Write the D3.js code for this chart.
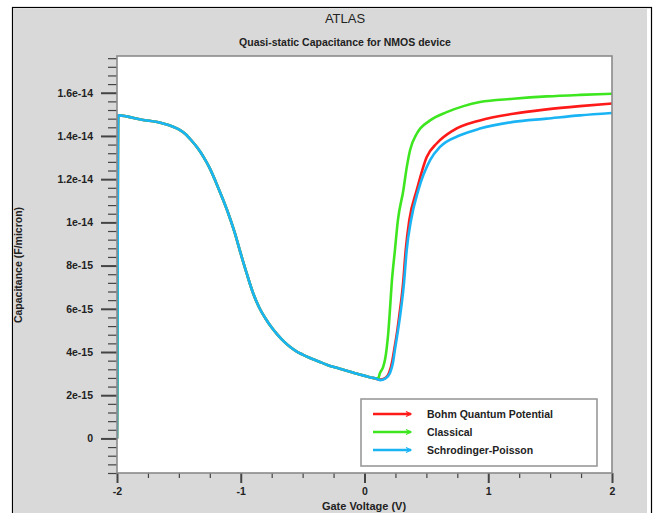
<!DOCTYPE html>
<html>
<head>
<meta charset="utf-8">
<script src="https://cdn.jsdelivr.net/npm/d3@7"></script>
<style>
  body { margin: 0; background: #fff; }
  svg { display: block; font-family: "Liberation Sans", Arial, sans-serif; }
</style>
</head>
<body>
<svg id="chart" width="659" height="513"></svg>
<script>
// shared part of the curve (all three models agree in accumulation/depletion)
const commonV = [-2, -1.997, -1.995, -1.993, -1.99, -1.8, -1.628, -1.5, -1.45, -1.4, -1.35, -1.3, -1.25, -1.2, -1.15,
  -1.1, -1.05, -1.0, -0.95, -0.9, -0.85, -0.8, -0.75, -0.7, -0.65, -0.6, -0.55, -0.5, -0.44, -0.37, -0.305,
  -0.24, -0.171, -0.1, -0.036, 0.05, 0.085];
const commonC = [0, 3, 8.5, 12.6, 14.95, 14.75, 14.58, 14.3, 14.1, 13.8, 13.45, 13.02, 12.5, 11.85, 11.15,
  10.4, 9.55, 8.55, 7.6, 6.72, 6.05, 5.55, 5.13, 4.78, 4.48, 4.23, 4.03, 3.88, 3.72, 3.56, 3.41,
  3.29, 3.18, 3.06, 2.95, 2.82, 2.78];

// inversion branches (C in 1e-15 F/micron)
const bohmV = [0.125, 0.17, 0.2, 0.225, 0.24, 0.26, 0.28, 0.312, 0.333, 0.362, 0.422, 0.503, 0.583, 0.718, 0.933, 1.202, 1.472, 1.741, 2.0];
const bohmC = [2.72, 2.8, 3.05, 3.6, 4.11, 4.8, 5.64, 7.19, 8.72, 10.1, 11.49, 13.03, 13.65, 14.26, 14.72, 15.03, 15.23, 15.38, 15.5];

const classicalV = [0.11, 0.125, 0.15, 0.166, 0.18, 0.192, 0.205, 0.22, 0.246, 0.27, 0.314, 0.34, 0.368, 0.422, 0.53, 0.664, 0.8, 0.933, 1.202, 1.472, 1.741, 2.0];
const classicalC = [2.78, 3.03, 3.3, 3.65, 4.2, 4.88, 5.9, 7.19, 8.72, 10.1, 11.49, 12.5, 13.34, 14.1, 14.72, 15.1, 15.38, 15.57, 15.72, 15.83, 15.9, 15.95];

const spV = [0.125, 0.17, 0.206, 0.23, 0.246, 0.265, 0.287, 0.319, 0.341, 0.376, 0.435, 0.53, 0.61, 0.772, 0.933, 1.202, 1.472, 1.741, 2.0];
const spC = [2.7, 2.78, 3.03, 3.5, 4.11, 4.8, 5.64, 7.19, 8.72, 10.1, 11.49, 12.88, 13.49, 14.03, 14.34, 14.65, 14.8, 14.95, 15.06];

const seriesNames = ["Bohm Quantum Potential", "Classical", "Schrodinger-Poisson"];
const seriesColors = ["#ff1a1a", "#3ee620", "#1ab4f5"];

const xTicks = [-2, -1, 0, 1, 2];
const xTickLabels = ["-2", "-1", "0", "1", "2"];
const yTicks = [0, 2e-15, 4e-15, 6e-15, 8e-15, 1e-14, 1.2e-14, 1.4e-14, 1.6e-14];
const yTickLabels = ["0", "2e-15", "4e-15", "6e-15", "8e-15", "1e-14", "1.2e-14", "1.4e-14", "1.6e-14"];

const svg = d3.select("#chart");
const plot = { left: 117, top: 56, right: 612, bottom: 473 };

const x = d3.scaleLinear().domain([-2, 2]).range([plot.left, plot.right]);
const y = d3.scaleLinear().domain([-1.6e-15, 1.77e-14]).range([plot.bottom, plot.top]);

// frame + background
svg.append("rect").attr("x", 12.5).attr("y", 7.5).attr("width", 639).attr("height", 520)
  .attr("fill", "#fff").attr("stroke", "#000").attr("stroke-width", 1.2);
svg.append("rect").attr("x", 13).attr("y", 8.5).attr("width", 634).attr("height", 520).attr("fill", "#d9d9d9");

svg.append("text").attr("x", 345).attr("y", 23).attr("text-anchor", "middle")
  .attr("font-size", 13).attr("fill", "#222").text("ATLAS");
svg.append("text").attr("x", 345).attr("y", 46).attr("text-anchor", "middle")
  .attr("font-size", 10.5).attr("font-weight", "bold").attr("fill", "#222")
  .text("Quasi-static Capacitance for NMOS device");

svg.append("rect").attr("x", plot.left).attr("y", plot.top)
  .attr("width", plot.right - plot.left).attr("height", plot.bottom - plot.top)
  .attr("fill", "#fff");

// axes
function styleAxis(g, w) {
  g.select(".domain").remove();
  g.selectAll(".tick line").attr("stroke", "#444").attr("stroke-width", w);
  g.selectAll(".tick text").attr("fill", "#222").attr("font-size", 10.5).attr("font-weight", "bold")
    .attr("font-family", "Liberation Sans, Arial, sans-serif");
}

const xMinor = d3.range(-2, 2.001, 0.25).filter(v => Math.abs(v - Math.round(v)) > 1e-6);
svg.append("g").attr("transform", `translate(0,${plot.bottom})`)
  .call(d3.axisBottom(x).tickValues(xMinor).tickSize(5).tickFormat(""))
  .call(g => styleAxis(g, 1.2));
svg.append("g").attr("transform", `translate(0,${plot.bottom})`)
  .call(d3.axisBottom(x).tickValues(xTicks).tickSize(10).tickPadding(5)
    .tickFormat((d, i) => xTickLabels[i]))
  .call(g => styleAxis(g, 2));

const yMinor = d3.range(-4, 45, 1).map(k => k * 4e-16)
  .filter(v => v >= -1.6e-15 && v <= 1.77e-14 && Math.abs(v / 2e-15 - Math.round(v / 2e-15)) > 1e-6);
svg.append("g").attr("transform", `translate(${plot.left},0)`)
  .call(d3.axisLeft(y).tickValues(yMinor).tickSize(9).tickFormat(""))
  .call(g => styleAxis(g, 1.2));
svg.append("g").attr("transform", `translate(${plot.left},0)`)
  .call(d3.axisLeft(y).tickValues(yTicks).tickSize(16).tickPadding(8)
    .tickFormat((d, i) => yTickLabels[i]))
  .call(g => styleAxis(g, 2));

svg.append("text").attr("x", 364).attr("y", 510).attr("text-anchor", "middle")
  .attr("font-size", 11).attr("font-weight", "bold").attr("fill", "#222").text("Gate Voltage (V)");
svg.append("text").attr("transform", "translate(22,265) rotate(-90)").attr("text-anchor", "middle")
  .attr("font-size", 10.5).attr("font-weight", "bold").attr("fill", "#222").text("Capacitance (F/micron)");

// curves
svg.append("clipPath").attr("id", "clip").append("rect")
  .attr("x", plot.left).attr("y", plot.top)
  .attr("width", plot.right - plot.left).attr("height", plot.bottom - plot.top);

function build(tailV, tailC) {
  const cs = commonC.concat(tailC);
  return commonV.concat(tailV).map((v, i) => ({ v, c: cs[i] * 1e-15 }));
}
const series = [build(bohmV, bohmC), build(classicalV, classicalC), build(spV, spC)];

const line = d3.line().x(d => x(d.v)).y(d => y(d.c)).curve(d3.curveMonotoneX);
svg.append("g").attr("clip-path", "url(#clip)")
  .selectAll("path").data(series).join("path")
  .attr("d", line).attr("fill", "none")
  .attr("stroke", (d, i) => seriesColors[i]).attr("stroke-width", 2.6)
  .attr("stroke-linejoin", "round");

// plot frame
svg.append("rect").attr("x", plot.left).attr("y", plot.top)
  .attr("width", plot.right - plot.left).attr("height", plot.bottom - plot.top)
  .attr("fill", "none").attr("stroke", "#8a8a8a").attr("stroke-width", 1.6);

// legend
const legend = svg.append("g");
legend.append("rect").attr("x", 361).attr("y", 399).attr("width", 236).attr("height", 67)
  .attr("fill", "#fff").attr("stroke", "#999").attr("stroke-width", 1.6);
const rows = legend.selectAll("g.row").data(seriesNames).join("g")
  .attr("transform", (d, i) => `translate(0,${414 + i * 18})`);
rows.append("line").attr("x1", 373).attr("x2", 411).attr("y1", 0).attr("y2", 0)
  .attr("stroke", (d, i) => seriesColors[i]).attr("stroke-width", 2.6);
rows.append("path").attr("d", "M406,-2.5L411,0L406,2.5").attr("fill", "none")
  .attr("stroke", (d, i) => seriesColors[i]).attr("stroke-width", 1.2);
rows.append("text").attr("x", 427).attr("y", 4).attr("font-size", 10.5).attr("font-weight", "bold")
  .attr("fill", "#222").text(d => d);
</script>
</body>
</html>
